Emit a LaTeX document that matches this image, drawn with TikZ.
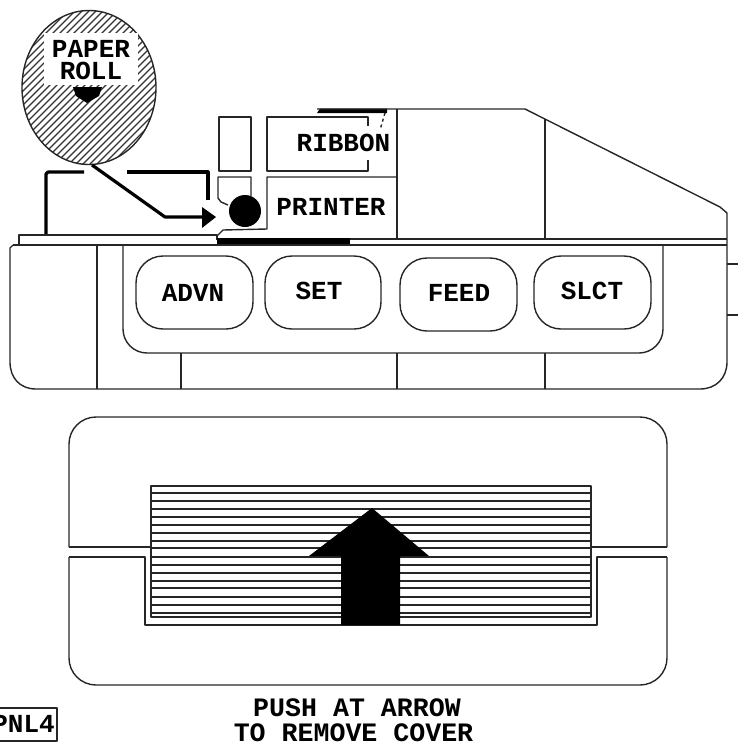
\documentclass[tikz,border=0pt]{standalone}
\usepackage{fontspec}
\setmainfont{Liberation Mono}
\tikzset{
  ln/.style={line width=1.4pt,draw=black!85},
  heavy/.style={line width=3.2pt,draw=black},
  lbl/.style={inner sep=0pt,font=\fontsize{26}{26}\selectfont\bfseries},
  btn/.style={ln,rounded corners=27pt}
}
\begin{document}
\begin{tikzpicture}[x=1pt,y=-1pt,line join=round]
\useasboundingbox (0,0) rectangle (738,745);
% paper roll
\begin{scope}
\clip (89,87.5) ellipse [x radius=67,y radius=77];
\foreach \k in {0,...,44}{\draw[line width=1.1pt,black!80] (\k*7+30-170,170)--(\k*7+30,0);}
\end{scope}
\draw[ln] (89,87.5) ellipse [x radius=67,y radius=77];
\fill[white] (44,33) rectangle (138,85);
\fill[black] (73,87)--(102,87)--(99,96)--(87,103)--(76,96)--cycle;
\node[lbl,align=center,font=\fontsize{26}{22}\selectfont\bfseries] (paperroll) at (91,60) {PAPER\\ROLL};
% feed path
\draw[heavy] (46,235)--(46,174)--(48,172)--(84,172);
\draw[heavy] (127,172)--(208,172)--(208,200);
\draw[heavy] (92,165)--(165,217)--(205,217);
\fill[black] (202,207)--(216,217)--(202,228)--cycle;
% head parts
\draw[ln] (219,117) rectangle (251,171);
\draw[ln] (368,126)--(368,117)--(267,117)--(267,171)--(368,171)--(368,160);
\fill[black] (317,113)--(320,108.5)--(387,108.5)--(387,113)--cycle;
\draw[ln] (317,109)--(525,109)--(720,207)--(727,213)--(727,245);
\draw[ln,dashed] (385,113)--(380,130);
\draw[ln] (397,109)--(397,238);
\draw[ln] (545,119)--(545,238);
\draw[ln] (397,177)--(267,177)--(267,229)--(223,230)--(217,236);
\draw[ln] (228,205)--(221,202)--(218,198)--(218,177)--(251,177)--(251,196);
\fill[black] (245,211) circle (16);
\node[lbl] (ribbon) at (343.5,143) {RIBBON};
\node[lbl] (printer) at (331,207) {PRINTER};
% deck
\draw[ln] (19,245)--(19,235)--(217,235)--(217,240);
\fill[black] (217,238) rectangle (350,244.5);
\draw[ln] (350,239)--(727,239);
\draw[ln] (13,245)--(727,245);
\draw[ln] (13,245)--(10,248)--(10,362) .. controls (10,378) and (20,389) .. (36,389)--(700,389) .. controls (716,389) and (727,378) .. (727,362)--(727,245);
\draw[ln] (97,245)--(97,389);
\draw[ln,rounded corners=24pt] (123,245)--(123,353)--(663,353)--(663,245);
\draw[ln] (181,353)--(181,389);
\draw[ln] (397,353)--(397,389);
\draw[ln] (545,353)--(545,389);
\draw[ln] (727,264)--(738,264);
\draw[ln] (727,315)--(738,315);
% buttons
\draw[btn] (136,256) rectangle (253,329);
\draw[btn] (265,256) rectangle (381,329);
\draw[btn] (400,258) rectangle (517,331);
\draw[btn] (534,256) rectangle (651,329);
\node[lbl] (advn) at (193,293) {ADVN};
\node[lbl] (set) at (319,291) {SET};
\node[lbl] (feed) at (459,293) {FEED};
\node[lbl] (slct) at (592,291) {SLCT};
% cover
\draw[ln,rounded corners=27pt] (69,547)--(69,417)--(667,417)--(667,547);
\draw[ln] (69,547)--(151,547);
\draw[ln] (591,547)--(667,547);
\draw[ln,rounded corners=27pt] (69,557)--(69,685)--(667,685)--(667,557);
\draw[ln] (69,557)--(145,557)--(145,625)--(597,625)--(597,557)--(667,557);
\foreach \yy in {493,501,509,517,525,533,541,548,557,565,573,581,588,597,605,613}{\draw[ln] (151,\yy)--(591,\yy);}
\draw[ln] (151,486) rectangle (591,617);
\fill[black] (372,508)--(429,556)--(400,556)--(400,625)--(341,625)--(341,556)--(309,556)--cycle;
% captions
\node[lbl,align=center,font=\fontsize{26.6}{25}\selectfont\bfseries] (push) at (353.5,720) {\hspace*{7pt}PUSH AT ARROW\\TO REMOVE COVER};
\draw[ln] (0,708)--(57,708)--(57,741)--(0,741);
\node[lbl,anchor=east] (pnl) at (55,724) {PNL4};
\end{tikzpicture}
\end{document}
